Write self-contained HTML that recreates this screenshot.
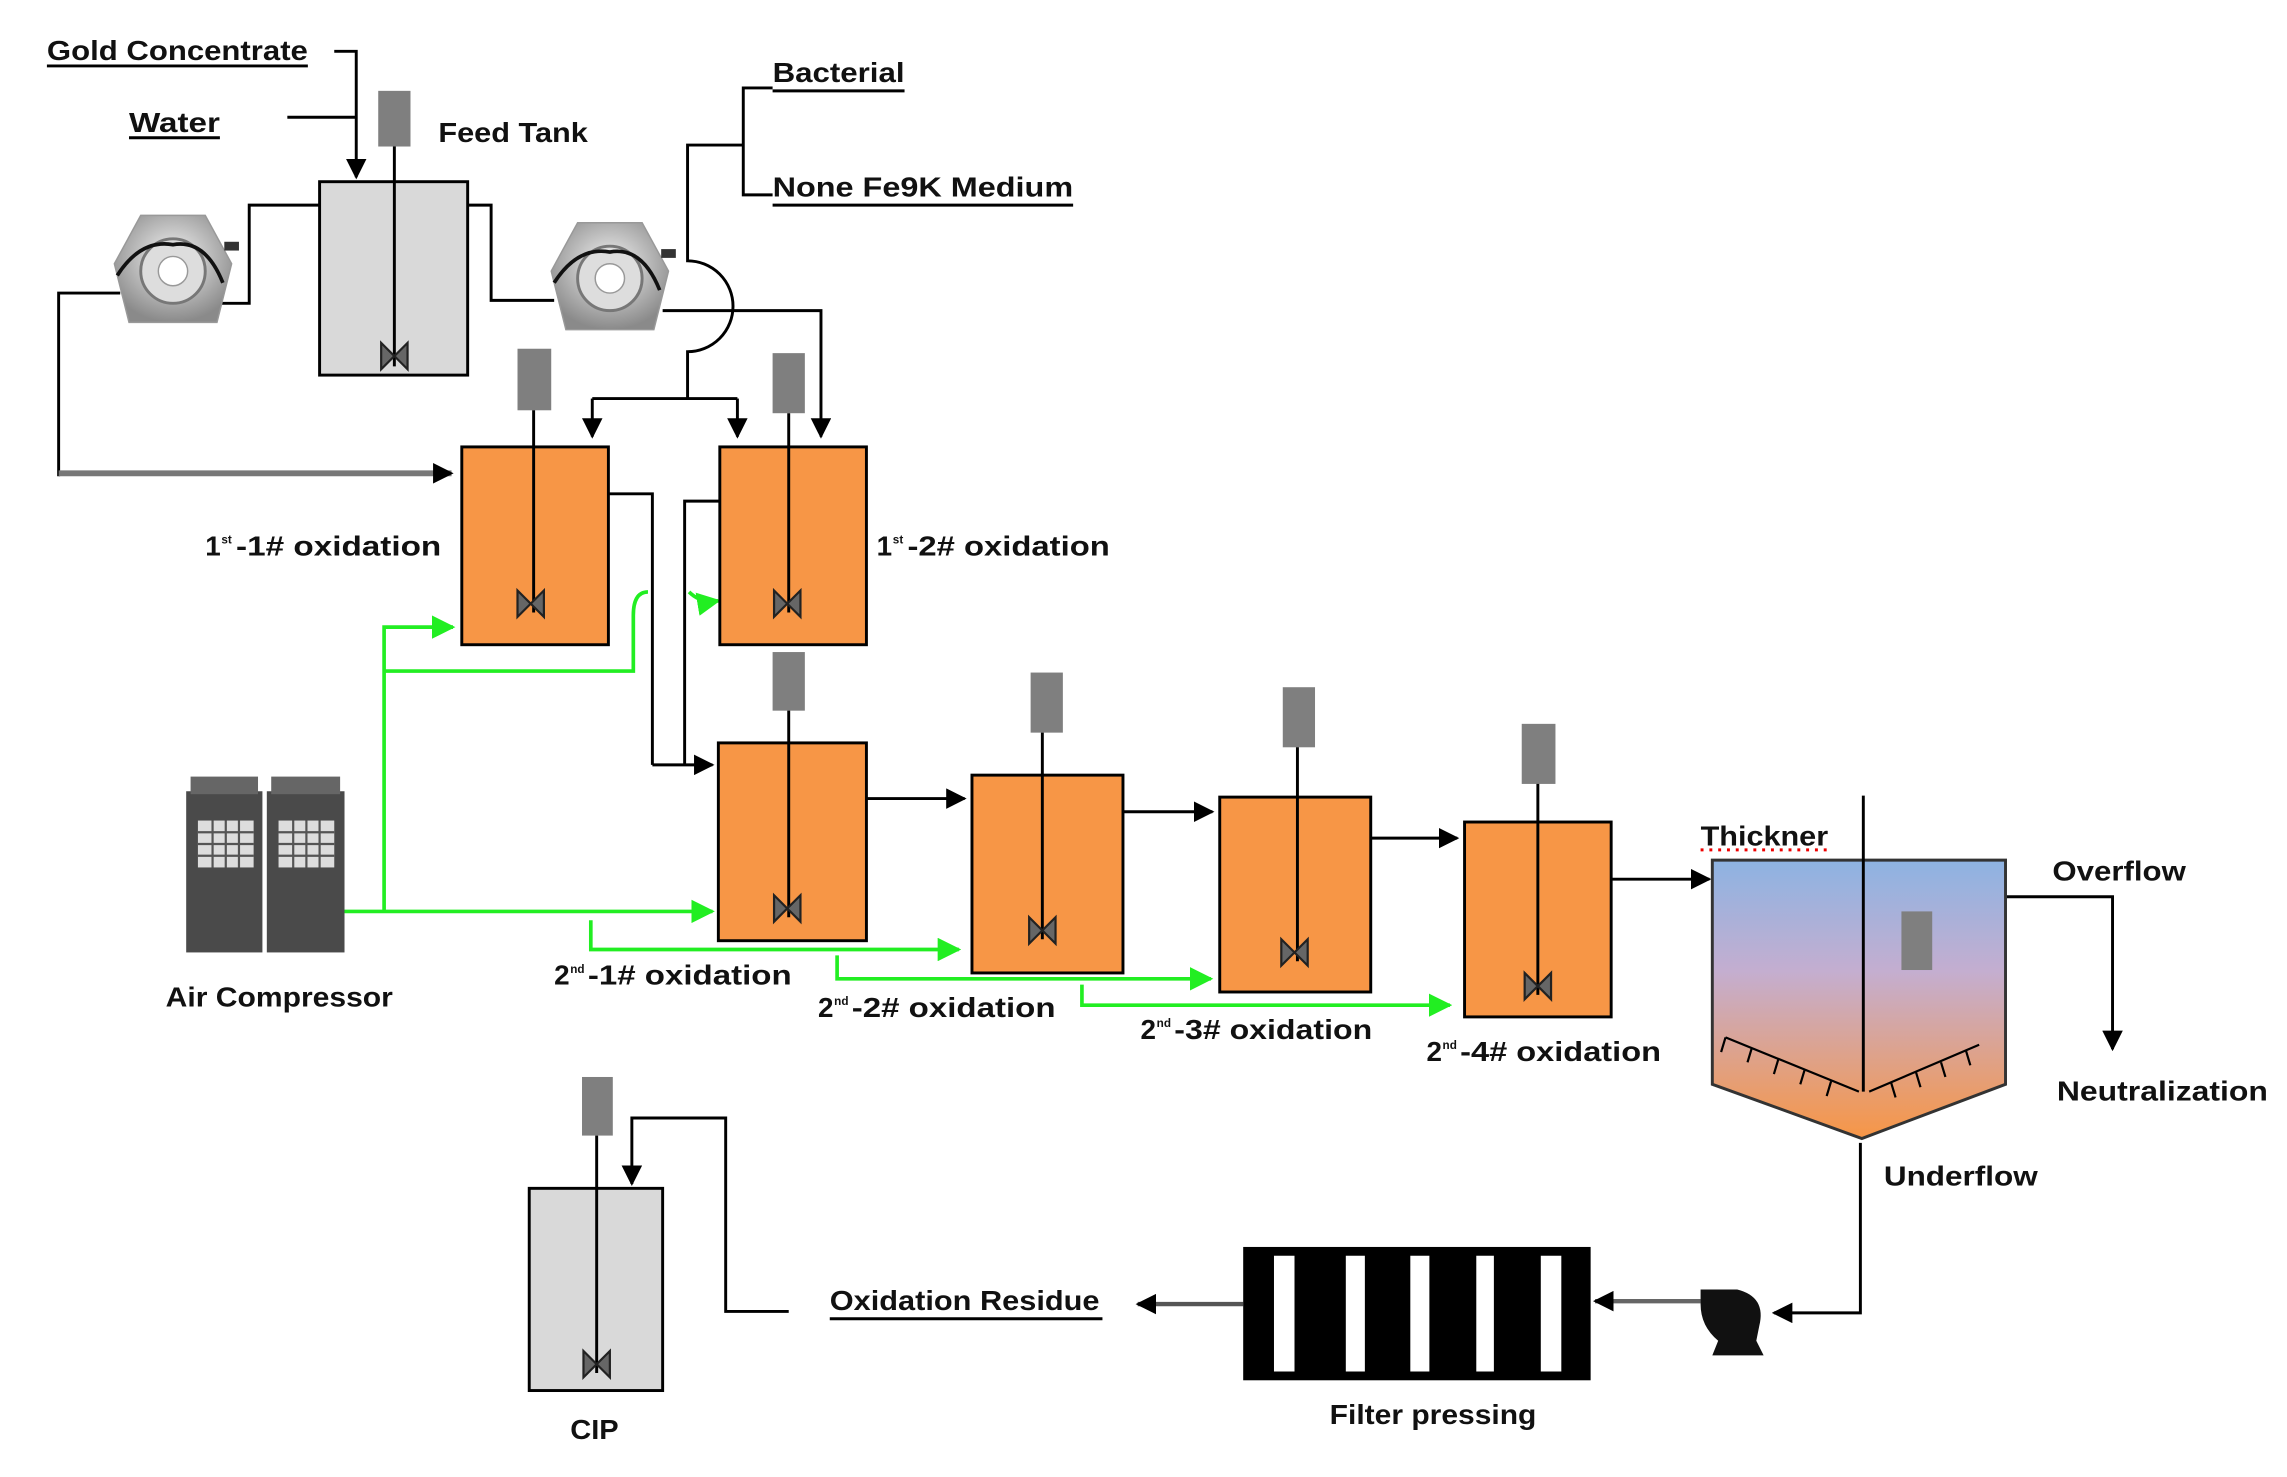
<!DOCTYPE html>
<html><head><meta charset="utf-8"><style>
html,body{margin:0;padding:0;background:#fff;}
svg{display:block;}
text{font-family:"Liberation Sans",sans-serif;font-size:19px;fill:#111;font-weight:bold;}
text.s{font-size:8px;}
</style></head><body>
<svg width="2287" height="1477" viewBox="0 0 1560 1008" preserveAspectRatio="none" xmlns="http://www.w3.org/2000/svg">
<defs>
<marker id="ab" viewBox="0 0 10 10" refX="9" refY="5" markerWidth="14" markerHeight="14" orient="auto" markerUnits="userSpaceOnUse"><path d="M0,0L10,5L0,10z" fill="#000"/></marker>
<marker id="ag" viewBox="0 0 10 10" refX="9" refY="5" markerWidth="16" markerHeight="16" orient="auto" markerUnits="userSpaceOnUse"><path d="M0,0L10,5L0,10z" fill="#22ee22"/></marker>
<linearGradient id="th" x1="0" y1="0" x2="0" y2="1"><stop offset="0" stop-color="#8db3e2"/><stop offset="0.4" stop-color="#c4aed0"/><stop offset="1" stop-color="#f79646"/></linearGradient>
<radialGradient id="pg" cx="0.5" cy="0.4" r="0.6"><stop offset="0" stop-color="#f4f4f4"/><stop offset="1" stop-color="#8a8a8a"/></radialGradient>
<g id="bow"><path d="M-9,-9L9,9L9,-9L-9,9z" fill="#666" stroke="#222" stroke-width="1.5"/></g>
<g id="pump"><path d="M-22,-38L22,-38L40,-5L30,35L-30,35L-40,-5z" fill="url(#pg)" stroke="#999"/><circle cx="0" cy="0" r="22" fill="#ddd" stroke="#777" stroke-width="2"/><circle cx="0" cy="0" r="10" fill="#fff" stroke="#999"/><path d="M-38,3Q-22,-22 0,-18Q22,-22 34,8" fill="none" stroke="#111" stroke-width="2.5"/><rect x="35" y="-20" width="10" height="6" fill="#333"/></g>
</defs>
<g stroke="#000" stroke-width="2" fill="none">
<path d="M228,35H243V121" marker-end="url(#ab)"/>
<path d="M196,80H243"/>
<path d="M218,140H170V207H150"/>
<path d="M40,325V200H82"/>
<path d="M40,323H308" stroke="#777" stroke-width="4" marker-end="url(#ab)"/>
<path d="M319,140H335V205H378"/>
<path d="M527,60H507V133H527M507,99H469V178A31,31 0 0 1 469,240V272M404,272H503" />
<path d="M404,272V298" marker-end="url(#ab)"/>
<path d="M503,272V298" marker-end="url(#ab)"/>
<path d="M452,212H560V298" marker-end="url(#ab)"/>
<path d="M415,337H445V522"/>
<path d="M491,342H467V522"/>
<path d="M445,522H486" marker-end="url(#ab)"/>
<path d="M591,545H658" marker-end="url(#ab)"/>
<path d="M766,554H827" marker-end="url(#ab)"/>
<path d="M935,572H994" marker-end="url(#ab)"/>
<path d="M1099,600H1166" marker-end="url(#ab)"/>
<path d="M1368,612H1441V716" marker-end="url(#ab)"/>
<path d="M1269,780V896H1210" marker-end="url(#ab)"/>
<path d="M1160,888H1088" stroke="#666" stroke-width="3" marker-end="url(#ab)"/>
<path d="M848,890H776" stroke="#555" stroke-width="3" marker-end="url(#ab)"/>
<path d="M538,895H495V763H431V808" marker-end="url(#ab)"/>
</g>
<g stroke="#22ee22" stroke-width="2.5" fill="none">
<path d="M235,622H486" marker-end="url(#ag)"/>
<path d="M262,622V428H309" marker-end="url(#ag)"/>
<path d="M262,458H432V420Q432,404 442,404"/>
<path d="M470,404Q478,412 490,410" marker-end="url(#ag)"/>
<path d="M403,628V648H654" marker-end="url(#ag)"/>
<path d="M571,652V668H826" marker-end="url(#ag)"/>
<path d="M738,672V686H989" marker-end="url(#ag)"/>
</g>
<rect x="218" y="124" width="101" height="132" fill="#d9d9d9" stroke="#000" stroke-width="2"/>
<rect x="258" y="62" width="22" height="38" fill="#7f7f7f"/>
<line x1="269" y1="100" x2="269" y2="250" stroke="#000" stroke-width="2"/>
<use href="#bow" x="269" y="243"/>
<g stroke="#000" stroke-width="2" fill="#f79646">
<rect x="315" y="305" width="100" height="135"/>
<rect x="491" y="305" width="100" height="135"/>
<rect x="490" y="507" width="101" height="135"/>
<rect x="663" y="529" width="103" height="135"/>
<rect x="832" y="544" width="103" height="133"/>
<rect x="999" y="561" width="100" height="133"/>
</g>
<g fill="#7f7f7f">
<rect x="353" y="238" width="23" height="42"/>
<rect x="527" y="241" width="22" height="41"/>
<rect x="527" y="445" width="22" height="40"/>
<rect x="703" y="459" width="22" height="41"/>
<rect x="875" y="469" width="22" height="41"/>
<rect x="1038" y="494" width="23" height="41"/>
<rect x="397" y="735" width="21" height="40"/>
</g>
<g stroke="#000" stroke-width="2">
<line x1="364" y1="280" x2="364" y2="418"/>
<line x1="538" y1="282" x2="538" y2="418"/>
<line x1="538" y1="485" x2="538" y2="626"/>
<line x1="711" y1="500" x2="711" y2="641"/>
<line x1="885" y1="510" x2="885" y2="656"/>
<line x1="1049" y1="535" x2="1049" y2="679"/>
</g>
<use href="#bow" x="362" y="412"/><use href="#bow" x="537" y="412"/>
<use href="#bow" x="537" y="620"/><use href="#bow" x="711" y="635"/>
<use href="#bow" x="883" y="650"/><use href="#bow" x="1049" y="673"/>
<rect x="361" y="811" width="91" height="138" fill="#d9d9d9" stroke="#000" stroke-width="2"/>
<line x1="407" y1="775" x2="407" y2="937" stroke="#000" stroke-width="2"/>
<use href="#bow" x="407" y="931"/>
<use href="#pump" x="118" y="185"/>
<use href="#pump" x="416" y="190"/>
<path d="M1168,587H1368V740L1270,777L1168,740z" fill="url(#th)" stroke="#333" stroke-width="2"/>
<line x1="1271" y1="543" x2="1271" y2="745" stroke="#000" stroke-width="2"/>
<rect x="1297" y="622" width="21" height="40" fill="#7f7f7f"/>
<g stroke="#000" stroke-width="1.5">
<line x1="1177" y1="708" x2="1268" y2="745"/><line x1="1275" y1="745" x2="1350" y2="713"/>
<path d="M1177,708l-3,10M1195,715l-3,10M1213,723l-3,10M1231,730l-3,10M1249,738l-3,10M1290,739l3,10M1307,732l3,10M1324,725l3,10M1341,717l3,10"/>
</g>
<line x1="1160" y1="580" x2="1248" y2="580" stroke="#e00" stroke-width="2" stroke-dasharray="2,4"/>
<path d="M1160,880H1185Q1205,885 1200,905L1198,915L1203,925H1168L1172,915Q1160,905 1160,890z" fill="#111"/>
<rect x="848" y="851" width="237" height="91" fill="#000"/>
<g fill="#fff">
<rect x="869" y="857" width="14" height="79"/><rect x="918" y="857" width="13" height="79"/>
<rect x="962" y="857" width="13" height="79"/><rect x="1007" y="857" width="12" height="79"/>
<rect x="1051" y="857" width="14" height="79"/>
</g>
<g>
<rect x="127" y="540" width="52" height="110" fill="#4a4a4a"/><rect x="182" y="540" width="53" height="110" fill="#4a4a4a"/>
<rect x="130" y="530" width="46" height="12" fill="#666"/><rect x="185" y="530" width="47" height="12" fill="#666"/>
<rect x="135" y="560" width="38" height="32" fill="#ddd"/><rect x="190" y="560" width="38" height="32" fill="#ddd"/>
<path d="M135,568H173M135,576H173M135,584H173M145,560V592M154,560V592M163,560V592M190,568H228M190,576H228M190,584H228M200,560V592M209,560V592M218,560V592" stroke="#555" stroke-width="1.5"/>
</g>
<g stroke="#000" stroke-width="2">
<line x1="32" y1="45" x2="210" y2="45"/><line x1="88" y1="94" x2="150" y2="94"/>
<line x1="527" y1="62" x2="617" y2="62"/><line x1="527" y1="140" x2="732" y2="140"/>
<line x1="566" y1="900" x2="752" y2="900"/>
</g>
<g>
<text x="32" y="41" textLength="178" lengthAdjust="spacingAndGlyphs">Gold Concentrate</text>
<text x="88" y="90" textLength="62" lengthAdjust="spacingAndGlyphs">Water</text>
<text x="299" y="97" textLength="102" lengthAdjust="spacingAndGlyphs">Feed Tank</text>
<text x="527" y="56" textLength="90" lengthAdjust="spacingAndGlyphs">Bacterial</text>
<text x="527" y="134" textLength="205" lengthAdjust="spacingAndGlyphs">None Fe9K Medium</text>
<text x="140" y="379">1</text><text class="s" x="151" y="371">st</text><text x="161" y="379" textLength="140" lengthAdjust="spacingAndGlyphs">-1# oxidation</text>
<text x="598" y="379">1</text><text class="s" x="609" y="371">st</text><text x="619" y="379" textLength="138" lengthAdjust="spacingAndGlyphs">-2# oxidation</text>
<text x="378" y="672">2</text><text class="s" x="389" y="664">nd</text><text x="401" y="672" textLength="139" lengthAdjust="spacingAndGlyphs">-1# oxidation</text>
<text x="558" y="694">2</text><text class="s" x="569" y="686">nd</text><text x="581" y="694" textLength="139" lengthAdjust="spacingAndGlyphs">-2# oxidation</text>
<text x="778" y="709">2</text><text class="s" x="789" y="701">nd</text><text x="801" y="709" textLength="135" lengthAdjust="spacingAndGlyphs">-3# oxidation</text>
<text x="973" y="724">2</text><text class="s" x="984" y="716">nd</text><text x="996" y="724" textLength="137" lengthAdjust="spacingAndGlyphs">-4# oxidation</text>
<text x="113" y="687" textLength="155" lengthAdjust="spacingAndGlyphs">Air Compressor</text>
<text x="1160" y="577" textLength="87" lengthAdjust="spacingAndGlyphs">Thickner</text>
<text x="1400" y="601" textLength="91" lengthAdjust="spacingAndGlyphs">Overflow</text>
<text x="1403" y="751" textLength="144" lengthAdjust="spacingAndGlyphs">Neutralization</text>
<text x="1285" y="809" textLength="105" lengthAdjust="spacingAndGlyphs">Underflow</text>
<text x="566" y="894" textLength="184" lengthAdjust="spacingAndGlyphs">Oxidation Residue</text>
<text x="907" y="972" textLength="141" lengthAdjust="spacingAndGlyphs">Filter pressing</text>
<text x="389" y="982" textLength="33" lengthAdjust="spacingAndGlyphs">CIP</text>
</g>
</svg>
</body></html>
